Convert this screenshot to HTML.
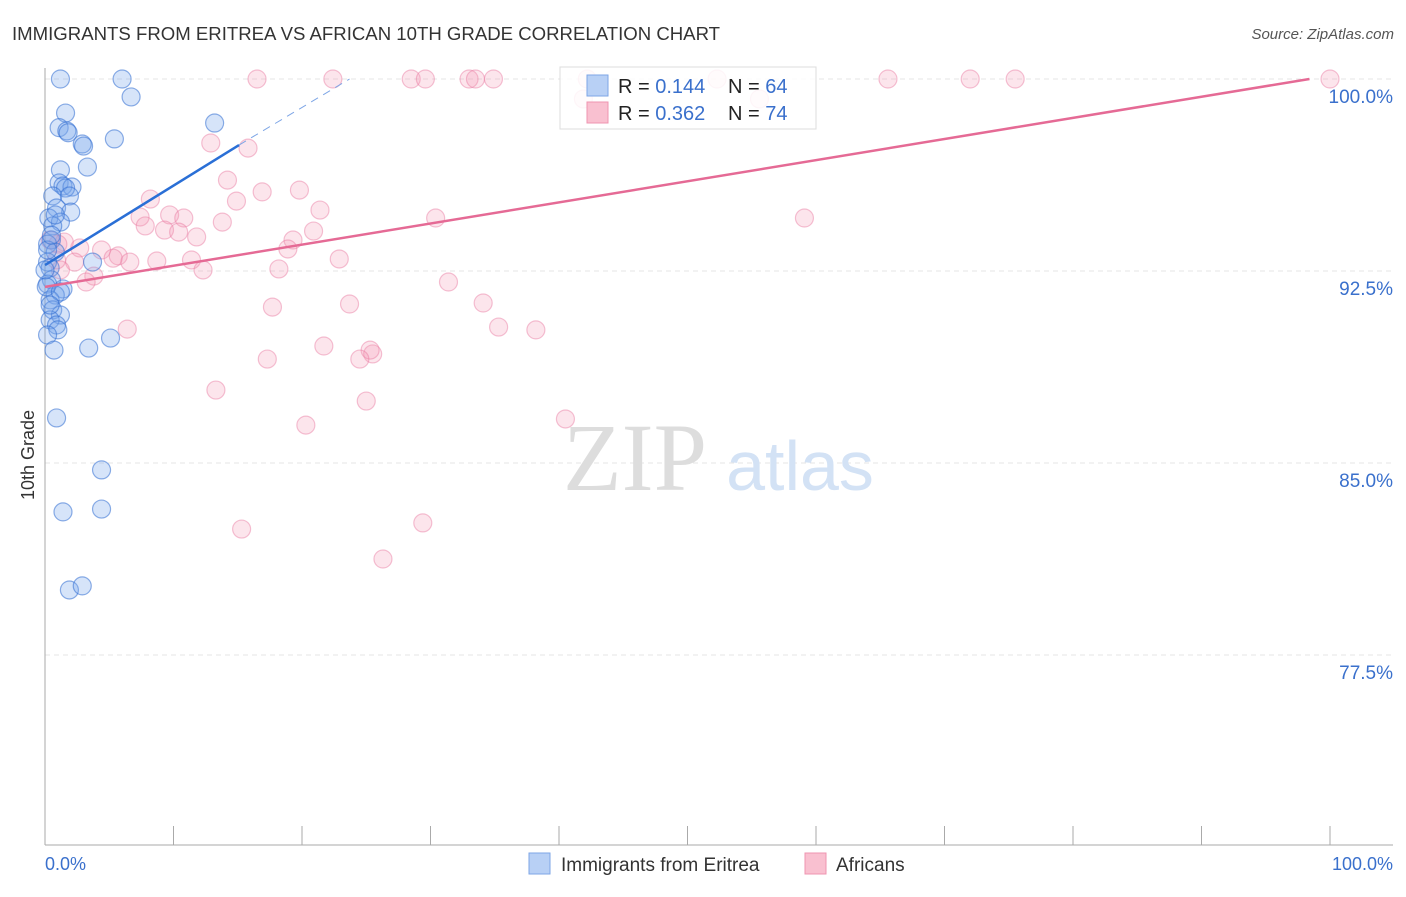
<!DOCTYPE html>
<html><head><meta charset="utf-8"><style>
body{margin:0;background:#fff;font-family:"Liberation Sans",sans-serif}
svg text{font-family:"Liberation Sans",sans-serif}
</style></head><body>
<svg width="1406" height="892">
<text x="12" y="40" font-size="18.6" fill="#333">IMMIGRANTS FROM ERITREA VS AFRICAN 10TH GRADE CORRELATION CHART</text>
<text x="1394" y="39" font-size="15" fill="#555" font-style="italic" text-anchor="end">Source: ZipAtlas.com</text>
<text x="34" y="455" font-size="18" fill="#333" transform="rotate(-90 34 455)" text-anchor="middle">10th Grade</text>
<g id="grid"></g>
<text x="635" y="490" font-size="96" fill="#ddd" text-anchor="middle" style="font-family:'Liberation Serif',serif">ZIP</text>
<text x="800" y="490" font-size="70" fill="#d3e2f5" text-anchor="middle">atlas</text>
<g id="pts"></g>
<g id="lines"></g>
<g>
<rect x="560" y="67" width="256" height="62" fill="#fff" fill-opacity="0.85" stroke="#ddd"/>
<rect x="587" y="75" width="21" height="21" fill="#b8d0f5" stroke="#7ea6e6"/>
<rect x="587" y="102" width="21" height="21" fill="#f9c0d0" stroke="#ef94b0"/>
<text x="618" y="93" font-size="20" fill="#222">R = <tspan fill="#3a70cc">0.144</tspan></text>
<text x="728" y="93" font-size="20" fill="#222">N = <tspan fill="#3a70cc">64</tspan></text>
<text x="618" y="120" font-size="20" fill="#222">R = <tspan fill="#3a70cc">0.362</tspan></text>
<text x="728" y="120" font-size="20" fill="#222">N = <tspan fill="#3a70cc">74</tspan></text>
</g>
<g>
<rect x="529" y="853" width="21" height="21" fill="#b8d0f5" stroke="#7ea6e6"/>
<text x="561" y="871" font-size="19" fill="#333">Immigrants from Eritrea</text>
<rect x="805" y="853" width="21" height="21" fill="#f9c0d0" stroke="#ef94b0"/>
<text x="836" y="871" font-size="19" fill="#333">Africans</text>
</g>
<text x="45" y="870" font-size="18" fill="#3a70cc">0.0%</text>
<text x="1393" y="870" font-size="18" fill="#3a70cc" text-anchor="end">100.0%</text>
</svg>
<script>
const yTicks=[100,92.5,85,77.5];
const yTickLabels=["100.0%","92.5%","85.0%","77.5%"];
const xTicks=[0,10,20,30,40,50,60,70,80,90,100];
const blueX=[1.2,6.0,6.7,1.6,1.1,1.7,1.8,2.9,3.0,5.4,13.2,1.2,3.3,1.1,1.4,2.1,1.6,0.6,1.9,0.9,2.0,0.3,1.2,0.6,0.5,0.2,0.8,0.2,3.7,0.4,0.5,0.2,1.4,0.8,0.4,0.6,1.2,0.4,0.9,1.0,0.2,0.7,3.4,5.1,0.9,4.4,1.4,4.4,1.9,2.9,0.2,0.5,0.8,0,0.1,1.2,0.4];
const blueY=[100,100,99.3,98.67,98.1,97.97,97.9,97.46,97.38,97.66,98.28,96.45,96.56,95.94,95.82,95.78,95.74,95.43,95.43,94.96,94.8,94.57,94.41,94.26,93.71,93.55,93.24,92.85,92.85,92.62,92.15,91.99,91.8,91.56,91.37,90.98,90.78,90.59,90.39,90.2,90.0,89.41,89.49,89.88,86.76,84.73,83.09,83.2,80.04,80.2,93.32,93.9,94.69,92.54,91.88,91.68,91.17];
const pinkX=[16.5,22.4,28.5,29.6,33.0,33.5,34.9,41.9,42.2,52.3,55.6,65.6,72.0,75.5,100,12.9,15.8,14.2,16.9,19.8,8.2,14.9,21.4,7.4,9.7,10.8,7.8,9.3,10.4,11.8,13.8,20.9,30.4,59.1,19.3,18.9,2.7,4.4,5.7,6.6,8.7,5.3,11.4,2.3,12.3,18.2,22.9,3.8,3.2,1.5,1.0,1.2,31.4,34.1,23.7,17.7,35.3,38.2,6.4,21.7,17.3,25.5,25.3,24.5,13.3,25.0,20.3,40.5,15.3,29.4,26.3,0.9,0.4];
const pinkY=[100,100,100,100,100,100,100,99.22,100,100,99.22,100,100,100,100,97.5,97.3,96.05,95.59,95.66,95.31,95.23,94.88,94.61,94.69,94.57,94.26,94.1,94.02,93.83,94.41,94.06,94.57,94.57,93.71,93.36,93.4,93.32,93.09,92.85,92.89,93.0,92.93,92.85,92.54,92.58,92.97,92.3,92.07,93.63,93.55,92.54,92.07,91.25,91.21,91.09,90.31,90.2,90.23,89.57,89.06,89.26,89.41,89.06,87.85,87.42,86.48,86.72,82.42,82.66,81.25,92.93,93.71];
const blueLine=[[0,92.73],[15.1,97.42]];
const blueDash=[[15.1,97.42],[23.7,100]];
const pinkLine=[[0,91.88],[98.4,100]];
const NS="http://www.w3.org/2000/svg";
const X=v=>45+v*12.85, Y=v=>79+(100-v)*25.6;
function mk(t,a,p){const e=document.createElementNS(NS,t);for(const k in a)e.setAttribute(k,a[k]);p.appendChild(e);return e;}
const g=document.getElementById('grid');
yTicks.forEach((t,i)=>{
 const l=mk('line',{x1:45,x2:1393,y1:Y(t),y2:Y(t),stroke:'#e4e4e4','stroke-dasharray':'5,4'},g);
 
 
 const tx=mk('text',{x:1393,y:Y(t)+24,'font-size':19,fill:'#3a70cc','text-anchor':'end'},g);
 tx.textContent=yTickLabels[i];
 
 
});
const ax=mk('line',{x1:45,x2:45,y1:68,y2:845,stroke:'#aaa'},g);


const bx=mk('line',{x1:45,x2:1393,y1:845,y2:845,stroke:'#aaa'},g);


xTicks.forEach(t=>{const l=mk('line',{x1:X(t),x2:X(t),y1:826,y2:845,stroke:'#aaa'},g);
 
 });
const p=document.getElementById('pts');
pinkX.forEach((x,i)=>{const c=mk('circle',{cx:X(x),cy:Y(pinkY[i]),r:9,fill:'rgba(244,150,180,0.25)',stroke:'rgba(232,120,160,0.45)','stroke-width':1.2},p);
 
 });
blueX.forEach((x,i)=>{const c=mk('circle',{cx:X(x),cy:Y(blueY[i]),r:9,fill:'rgba(120,165,235,0.3)',stroke:'rgba(50,110,210,0.55)','stroke-width':1.2},p);
 
 });
const L=document.getElementById('lines');
const l1=mk('line',{x1:X(blueLine[0][0]),y1:Y(blueLine[0][1]),x2:X(blueLine[1][0]),y2:Y(blueLine[1][1]),stroke:'#2a6fd6','stroke-width':2.5},L);


const l2=mk('line',{x1:X(blueDash[0][0]),y1:Y(blueDash[0][1]),x2:X(blueDash[1][0]),y2:Y(blueDash[1][1]),stroke:'#7ea6e6','stroke-width':1,'stroke-dasharray':'8,6'},L);


const l3=mk('line',{x1:X(pinkLine[0][0]),y1:Y(pinkLine[0][1]),x2:X(pinkLine[1][0]),y2:Y(pinkLine[1][1]),stroke:'#e56a95','stroke-width':2.5},L);


</script>
</body></html>
